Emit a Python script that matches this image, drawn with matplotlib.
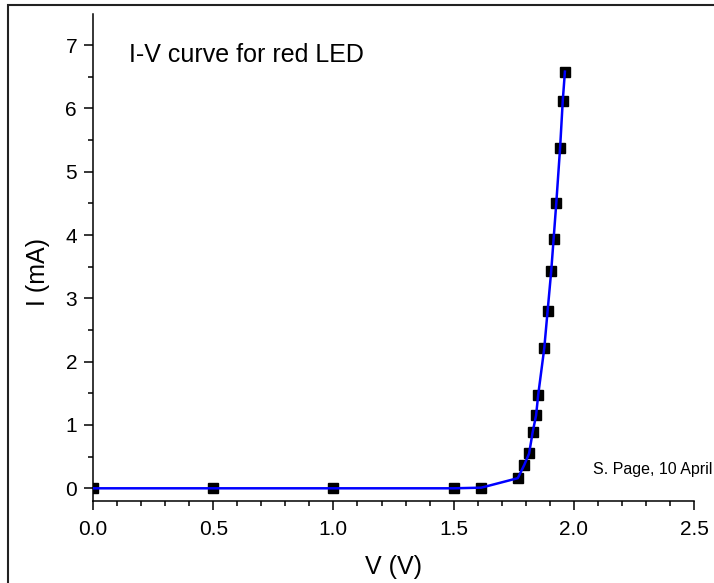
import numpy as np
import matplotlib
matplotlib.use("Agg")
import matplotlib.pyplot as plt
from matplotlib.patches import Rectangle
from matplotlib.ticker import MultipleLocator

plt.rcParams['font.family'] = ['Liberation Sans', 'DejaVu Sans']

# data
volts = [0.0, 0.5, 1.0, 1.5, 1.615, 1.767, 1.794, 1.814, 1.829, 1.843,
         1.852, 1.877, 1.891, 1.906, 1.916, 1.927, 1.943, 1.954, 1.963]
current_ma = [0.0, 0.0, 0.0, 0.0, 0.01, 0.16, 0.37, 0.55, 0.89, 1.15,
              1.48, 2.21, 2.80, 3.43, 3.94, 4.50, 5.38, 6.12, 6.58]
x_ticks = [0.0, 0.5, 1.0, 1.5, 2.0, 2.5]
y_ticks = [0, 1, 2, 3, 4, 5, 6, 7]

fig = plt.figure(figsize=(7.14, 5.83), dpi=100)
ax = fig.add_axes([0.1303, 0.1407, 0.8417, 0.8353])

# frame round the page, cut off at right and bottom
fig.add_artist(Rectangle((8 / 714, -0.2), 1.2, 1.2 - 5 / 583,
                         transform=fig.transFigure, fill=False,
                         edgecolor='#222222', linewidth=1.5))

ax.plot(volts, current_ma, 's', color='black', markersize=7, zorder=2)
ax.plot(volts, current_ma, '-', color='#0000ff', linewidth=1.8, zorder=3)

ax.set_xlim(0, 2.5)
ax.set_ylim(-0.2, 7.49)
ax.set_xticks(x_ticks)
ax.set_xticklabels([f'{t:.1f}' for t in x_ticks])
ax.set_yticks(y_ticks)
ax.xaxis.set_minor_locator(MultipleLocator(0.1))
ax.yaxis.set_minor_locator(MultipleLocator(0.5))

for s in ['top', 'right']:
    ax.spines[s].set_visible(False)
for s in ['left', 'bottom']:
    ax.spines[s].set_linewidth(1.1)

ax.tick_params(which='major', direction='out', length=6.5, width=1.1,
               labelsize=15)
ax.tick_params(which='minor', direction='out', length=3.5, width=1.1)
ax.tick_params(axis='x', which='major', pad=7)
ax.tick_params(axis='y', which='major', pad=5)

ax.set_xlabel('V (V)', fontsize=18, va='center')
ax.set_ylabel('I (mA)', fontsize=18, va='center')
ax.xaxis.set_label_coords(0.5, -0.1355)
ax.yaxis.set_label_coords(-0.0915, 0.47)

ax.text(0.15, 6.85, 'I-V curve for red LED', fontsize=18, va='center', ha='left')
ax.text(2.08, 0.30, 'S. Page, 10 April', fontsize=11.5, va='center', ha='left',
        clip_on=False)

fig.savefig('out.png', dpi=100)
